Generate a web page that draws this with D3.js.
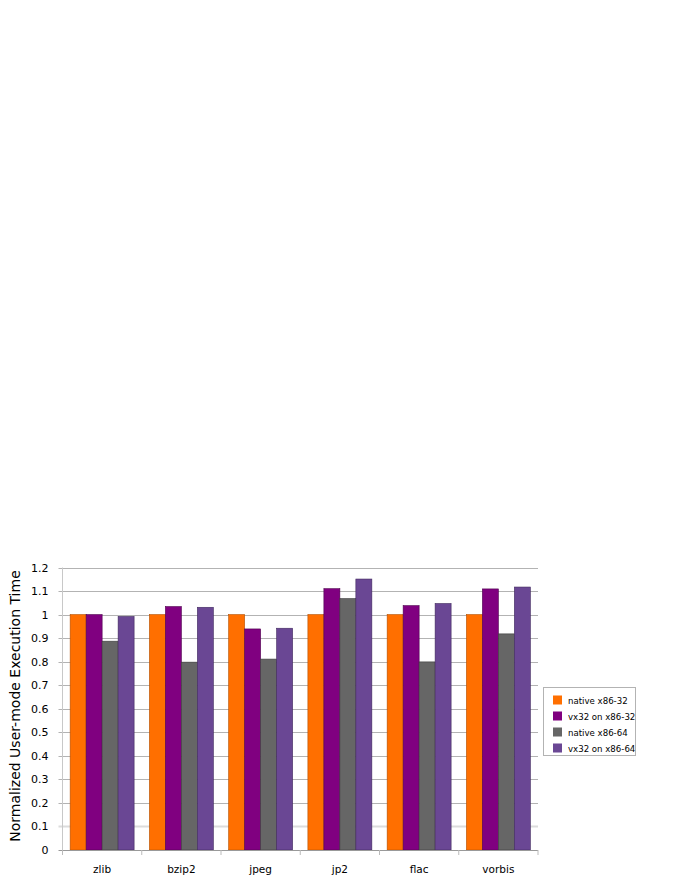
<!DOCTYPE html>
<html>
<head>
<meta charset="utf-8">
<script src="https://cdn.jsdelivr.net/npm/d3@7"></script>
<style>
  html, body { margin: 0; padding: 0; background: #fff; }
  svg { display: block; }
  text { font-family: "DejaVu Sans", Verdana, sans-serif; fill: #000; }
</style>
</head>
<body>
<svg id="chart" width="680" height="880"></svg>
<script>
const categories = ["zlib", "bzip2", "jpeg", "jp2", "flac", "vorbis"];
const seriesNames = ["native x86-32", "vx32 on x86-32", "native x86-64", "vx32 on x86-64"];
const nativeX86_32 = [1, 1, 1, 1, 1, 1];
const vx32OnX86_32 = [1.0, 1.034, 0.939, 1.110, 1.038, 1.109];
const nativeX86_64 = [0.887, 0.798, 0.811, 1.068, 0.799, 0.918];
const vx32OnX86_64 = [0.992, 1.031, 0.942, 1.151, 1.047, 1.117];
const yTicks = [0, 0.1, 0.2, 0.3, 0.4, 0.5, 0.6, 0.7, 0.8, 0.9, 1, 1.1, 1.2];
const colors = ["#ff6f00", "#800080", "#666666", "#6a4794"];
const strokes = ["#b45000", "#4d004d", "#3d3d3d", "#40285e"];

const series = [nativeX86_32, vx32OnX86_32, nativeX86_64, vx32OnX86_64];

const svg = d3.select("#chart");
const plotLeft = 62.5, plotRight = 538, plotTop = 567.5, plotBottom = 850;

const y = d3.scaleLinear().domain([0, 1.2]).range([plotBottom, plotTop]);
const x0 = d3.scaleBand().domain(categories).range([plotLeft, plotRight]).paddingInner(0.193).paddingOuter(0.0965);
const x1 = d3.scaleBand().domain(d3.range(4)).range([0, x0.bandwidth()]).padding(0);

// gridlines
svg.append("g").selectAll("line").data(yTicks.filter(d => d > 0)).join("line")
  .attr("x1", plotLeft - 4).attr("x2", plotRight)
  .attr("y1", d => Math.round(y(d)) + 0.5).attr("y2", d => Math.round(y(d)) + 0.5)
  .attr("stroke", d => Math.abs(d - 0.1) < 1e-9 ? "#dcdcdc" : "#b3b3b3")
  .attr("stroke-width", d => Math.abs(d - 0.1) < 1e-9 ? 2 : 1);

// y axis line
svg.append("line").attr("x1", plotLeft).attr("x2", plotLeft).attr("y1", plotTop).attr("y2", plotBottom)
  .attr("stroke", "#c8c8c8");

// bars
const groups = svg.append("g").selectAll("g").data(categories).join("g")
  .attr("transform", c => `translate(${x0(c)},0)`);
groups.selectAll("rect").data((c, i) => series.map((s, k) => ({k, v: s[i]}))).join("rect")
  .attr("x", d => x1(d.k))
  .attr("width", x1.bandwidth())
  .attr("y", d => y(d.v))
  .attr("height", d => y(0) - y(d.v))
  .attr("fill", d => colors[d.k])
  .attr("stroke", d => strokes[d.k])
  .attr("stroke-width", 0.6);

// x axis
const xAxisG = svg.append("g").attr("transform", `translate(0,${plotBottom})`);
xAxisG.append("line").attr("x1", plotLeft - 4).attr("x2", plotRight).attr("y1", 0.5).attr("y2", 0.5).attr("stroke", "#999");
const step = x0.step();
xAxisG.selectAll("line.tick").data(d3.range(categories.length + 1)).join("line")
  .attr("class", "tick")
  .attr("x1", i => plotLeft + i * step).attr("x2", i => plotLeft + i * step)
  .attr("y1", 0).attr("y2", 5).attr("stroke", "#bbb");
xAxisG.selectAll("text").data(categories).join("text")
  .attr("x", c => x0(c) + x0.bandwidth() / 2)
  .attr("y", 23)
  .attr("text-anchor", "middle")
  .attr("font-size", "10.5px")
  .text(c => c);

// y axis labels
const yAxis = d3.axisLeft(y).tickValues(yTicks).tickSize(0).tickPadding(14)
  .tickFormat(d => d3.format("~g")(d));
const yG = svg.append("g").attr("transform", `translate(${plotLeft},0)`).call(yAxis);
yG.select(".domain").remove();
yG.selectAll("text").attr("font-size", "11px").attr("font-family", "DejaVu Sans, sans-serif").attr("fill", "#000");

// y title
svg.append("text")
  .attr("transform", "translate(19.5,706) rotate(-90)")
  .attr("text-anchor", "middle")
  .attr("font-size", "14px")
  .text("Normalized User-mode Execution Time");

// legend
const lg = svg.append("g");
lg.append("rect").attr("x", 543.5).attr("y", 687.5).attr("width", 92).attr("height", 68)
  .attr("fill", "#fff").attr("stroke", "#b3b3b3");
const items = lg.selectAll("g").data(seriesNames).join("g")
  .attr("transform", (d, i) => `translate(553,${695.5 + i * 16})`);
items.append("rect").attr("width", 9).attr("height", 9).attr("fill", (d, i) => colors[i]);
items.append("text").attr("x", 15).attr("y", 8).attr("font-size", "8.6px").text(d => d);
</script>
</body>
</html>
